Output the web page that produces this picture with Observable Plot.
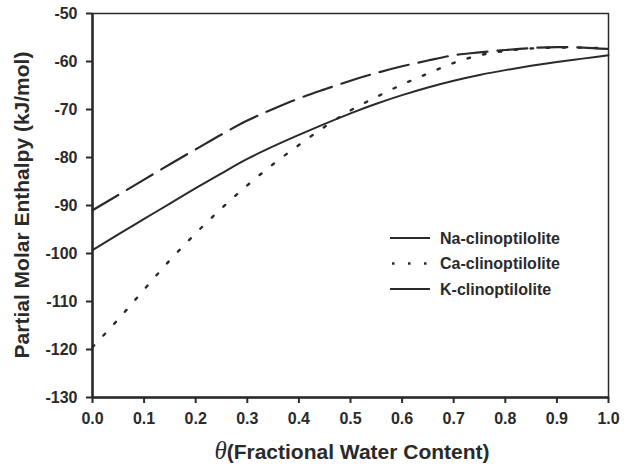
<!DOCTYPE html>
<html><head><meta charset="utf-8">
<script src="https://cdn.jsdelivr.net/npm/d3@7"></script>
<script src="https://cdn.jsdelivr.net/npm/@observablehq/plot@0.6"></script>
<style>body{margin:0;background:#fff}svg{display:block}</style>
</head><body><div id="chart"></div>
<script>
const theta = [0,0.05,0.1,0.15,0.2,0.25,0.3,0.35,0.4,0.45,0.5,0.55,0.6,0.65,0.7,0.75,0.8,0.85,0.9,0.95,1.0];
const naValues = [-99.3,-96.0,-92.8,-89.6,-86.4,-83.3,-80.3,-77.7,-75.3,-73.0,-70.8,-68.8,-67.0,-65.4,-64.0,-62.8,-61.8,-60.9,-60.1,-59.4,-58.7];
const caValues = [-119.5,-113.7,-107.5,-101.4,-95.8,-90.6,-85.8,-81.4,-77.4,-73.6,-70.2,-67.4,-64.8,-62.5,-60.3,-58.7,-57.8,-57.3,-57.1,-57.1,-57.3];
const kValues = [-91.0,-87.8,-84.6,-81.4,-78.3,-75.2,-72.3,-69.9,-67.7,-65.8,-64.0,-62.4,-61.0,-59.8,-58.7,-58.1,-57.6,-57.2,-57.0,-57.1,-57.4];
const seriesNames = ["Na-clinoptilolite","Ca-clinoptilolite","K-clinoptilolite"];
const xTicks = [0,0.1,0.2,0.3,0.4,0.5,0.6,0.7,0.8,0.9,1.0];
const yTicks = [-50,-60,-70,-80,-90,-100,-110,-120,-130];
const yTitle = "Partial Molar Enthalpy (kJ/mol)";
const xTitleSymbol = "θ";
const xTitleText = "(Fractional Water Content)";

const styles = {
  "Na-clinoptilolite": {dash: null, width: 2},
  "Ca-clinoptilolite": {dash: "2.5,13.5", width: 2.4},
  "K-clinoptilolite": {dash: "30,10", width: 2.2}
};
const valuesBySeries = [naValues, caValues, kValues];
const rows = [];
seriesNames.forEach((s, i) => theta.forEach((t, j) => rows.push({series: s, theta: t, value: valuesBySeries[i][j]})));

const ink = "#2a2a2a";
const font = "'Liberation Sans', Arial, sans-serif";
const plot = Plot.plot({
  width: 637, height: 468,
  marginLeft: 92, marginRight: 29, marginTop: 13, marginBottom: 71,
  style: {fontFamily: font, fontSize: "16px", fontWeight: "bold", color: ink, background: "#fff"},
  x: {domain: [0, 1]},
  y: {domain: [-130, -50]},
  marks: [
    Plot.axisX({ticks: xTicks, tickFormat: d => d.toFixed(1), tickSize: 6, tickPadding: 9, label: null, stroke: ink, strokeWidth: 2, fontSize: 16, fontWeight: "bold"}),
    Plot.axisY({ticks: yTicks, tickFormat: d => String(d), tickSize: 6, tickPadding: 9, label: null, stroke: ink, strokeWidth: 2, fontSize: 16, fontWeight: "bold"}),
    Plot.frame({stroke: ink, strokeWidth: 1.5}),
    Plot.ruleX([0], {stroke: ink, strokeWidth: 2.5}),
    Plot.ruleY([-130], {stroke: ink, strokeWidth: 2.5}),
    ...seriesNames.map(s => Plot.line(rows.filter(r => r.series === s), {
      x: "theta", y: "value", curve: "monotone-x", stroke: ink,
      strokeWidth: styles[s].width, strokeDasharray: styles[s].dash
    }))
  ]
});
document.getElementById("chart").append(plot);

const svg = d3.select(plot);
svg.append("text")
  .attr("transform", "translate(29,205) rotate(-90)")
  .attr("text-anchor", "middle")
  .attr("font-family", font).attr("font-size", 21).attr("font-weight", "bold").attr("fill", ink)
  .text(yTitle);
const xt = svg.append("text")
  .attr("x", 352).attr("y", 459)
  .attr("text-anchor", "middle")
  .attr("font-family", font).attr("font-size", 21).attr("font-weight", "bold").attr("fill", ink);
xt.append("tspan").attr("font-family", "'Liberation Serif', 'Times New Roman', serif").attr("font-style", "italic").attr("font-weight", "normal").attr("font-size", 25).text(xTitleSymbol);
xt.append("tspan").text(xTitleText);

const legend = svg.append("g");
seriesNames.forEach((s, i) => {
  const y = 238 + i * 25.5;
  legend.append("line").attr("x1", 390).attr("x2", 430).attr("y1", y).attr("y2", y)
    .attr("stroke", ink).attr("stroke-width", styles[s].width)
    .attr("stroke-dasharray", s === "Ca-clinoptilolite" ? styles[s].dash : null)
    .attr("stroke-dashoffset", s === "Ca-clinoptilolite" ? -2 : 0);
  legend.append("text").attr("x", 440).attr("y", y + 5.5)
    .attr("text-anchor", "start")
    .attr("font-family", font).attr("font-size", 16).attr("font-weight", "bold").attr("fill", ink)
    .text(s);
});
</script>
</body></html>
